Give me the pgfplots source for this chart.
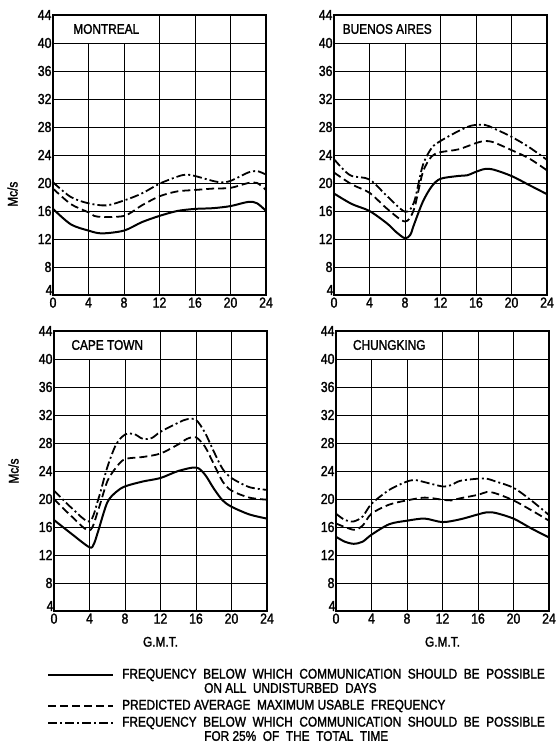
\documentclass[border=0pt]{standalone}
\usepackage{pgfplots}
\pgfplotsset{compat=1.18}
\usepackage{fontspec}
\setmainfont{Liberation Sans}[FakeStretch=0.85, FakeBold=1.6]

\tikzset{
  lo/.style={black, line width=2pt, smooth},
  avg/.style={black, line width=1.8pt, smooth, dash pattern=on 8bp off 4bp},
  hi/.style={black, line width=1.8pt, smooth, dash pattern=on 9bp off 3bp on 2bp off 3bp},
}
\pgfplotsset{
  panel/.style={
    scale only axis, width=213bp, height=280bp,
    xmin=0, xmax=24, ymin=4, ymax=44,
    xtick={0,4,...,24}, ytick={8,12,...,44},
    extra y ticks={4},
    extra y tick style={grid=none, yticklabel style={yshift=5bp, xshift=1bp}},
    grid=major, grid style={black, line width=0.7pt},
    axis line style={line width=1.1pt},
    major tick length=0pt,
    tick label style={font=\fontsize{14.5}{14.5}\selectfont},
    /pgf/number format/assume math mode=true,
    xticklabel style={yshift=1bp},
    yticklabel style={xshift=2bp},
    label style={font=\fontsize{14}{14}\selectfont},
  },
  mcs/.style={ylabel={Mc/s}, ylabel style={at={(axis description cs:-0.19,#1)}, anchor=center}},
  gmt/.style={xlabel={G.M.T.}, xlabel style={at={(axis description cs:0.5,-0.11)}, anchor=center}},
}
\newcommand{\titlebox}[1]{%
  \draw[fill=white, line width=0.9pt] (axis cs:0,40) rectangle (axis cs:12,44);
  \node[font=\fontsize{14}{14}\selectfont] at (axis cs:6,42) {#1};}

\begin{document}
\begin{tikzpicture}
\useasboundingbox (0,0) rectangle (558bp,746bp);

% Montreal
\begin{axis}[panel, mcs=0.36, at={(53bp,451bp)}, anchor=south west]
\addplot[lo] coordinates {(0,16.3)(2,14.1)(4,13.2)(5.5,12.8)(8,13.2)(10,14.4)(12,15.3)(14,16.0)(16,16.3)(18,16.4)(20,16.7)(22,17.3)(23,17.1)(24,16.0)};
\addplot[avg] coordinates {(0,19.2)(2,17.0)(4,15.8)(5,15.2)(8,15.3)(10,16.8)(12,18.1)(14,18.8)(16,19.0)(18,19.2)(20,19.3)(22,20.0)(23,20.0)(24,19.0)};
\addplot[hi] coordinates {(0,20.1)(2,18.0)(4,17.1)(6,16.8)(8,17.5)(10,18.5)(12,19.9)(14,20.9)(15,21.2)(16,21.0)(18,20.3)(19,20.1)(20,20.3)(22,21.5)(23,21.7)(24,21.2)};
\titlebox{MONTREAL}
\end{axis}

% Buenos Aires
\begin{axis}[panel, at={(334bp,451bp)}, anchor=south west]
\addplot[lo] coordinates {(0,18.5)(2,17.0)(4,16.0)(6,14.2)(7,13.0)(8,12.1)(8.6,12.6)(9,14.0)(10,17.3)(11,19.5)(12,20.6)(14,21.0)(15,21.1)(16,21.6)(17,22.0)(18,21.9)(20,21.0)(22,19.7)(24,18.4)};
\addplot[avg] coordinates {(0,21.5)(2,19.8)(4,18.6)(6,16.3)(8,14.5)(9,16.2)(10,21.5)(11,23.8)(12,24.4)(14,24.8)(16,25.7)(17,26.0)(18,25.8)(20,24.7)(22,23.5)(24,21.8)};
\addplot[hi] coordinates {(0,23.4)(1,22.0)(2,21.0)(4,20.5)(6,18.1)(8,15.9)(9,17.2)(10,22.5)(11,25.0)(12,26.0)(14,27.4)(15.5,28.2)(17,28.3)(18,27.8)(20,26.6)(22,25.1)(24,23.3)};
\titlebox{BUENOS AIRES}
\end{axis}

% Cape Town
\begin{axis}[panel, mcs=0.5, gmt, at={(54bp,135bp)}, anchor=south west]
\addplot[lo] coordinates {(0,17.0)(2,15.0)(4,13.1)(4.5,13.6)(5,15.5)(6,19.5)(7,21.0)(8,21.8)(10,22.5)(12,23.0)(14,24.0)(16,24.5)(17,23.5)(18,21.5)(19,19.8)(20,18.9)(22,17.8)(24,17.2)};
\addplot[avg] coordinates {(0,20.0)(2,17.5)(4,15.5)(5,18.5)(6,22.5)(7,24.5)(8,25.7)(10,26.0)(12,26.5)(14,27.8)(15,28.6)(16,28.8)(17,27.5)(18,25.0)(19,22.5)(20,21.2)(22,20.2)(24,19.9)};
\addplot[hi] coordinates {(0,21.2)(2,18.7)(4,16.8)(5,20.0)(6,24.5)(7,27.8)(8,29.2)(9,29.3)(10,28.6)(11,28.7)(12,29.6)(14,30.9)(15,31.4)(16,31.3)(17,29.5)(18,26.8)(19,24.3)(20,23.0)(22,21.7)(24,21.3)};
\titlebox{CAPE TOWN}
\end{axis}

% Chungking
\begin{axis}[panel, gmt, at={(336bp,135bp)}, anchor=south west]
\addplot[lo] coordinates {(0,14.6)(1,13.9)(2,13.6)(3,13.9)(4,14.9)(6,16.4)(8,16.9)(10,17.2)(12,16.7)(14,17.1)(16,17.8)(17,18.1)(18,18.0)(20,17.2)(22,15.8)(24,14.5)};
\addplot[avg] coordinates {(0,16.5)(2,15.6)(3,16.2)(4,17.9)(6,19.2)(8,19.8)(10,20.2)(12,19.9)(13,19.8)(14,20.1)(16,20.6)(17,21.0)(18,20.8)(20,19.8)(22,18.4)(24,16.9)};
\addplot[hi] coordinates {(0,17.9)(1,17.0)(2,16.8)(3,17.5)(4,19.3)(6,21.3)(8,22.5)(9,22.7)(10,22.4)(12,21.8)(13,22.0)(14,22.6)(16,22.9)(17,22.9)(18,22.5)(20,21.6)(22,19.8)(24,17.7)};
\titlebox{CHUNGKING}
\end{axis}

% key
\begin{scope}[font=\fontsize{14}{14}\selectfont]
\draw[lo] (48bp,71bp) -- (113bp,71bp);
\node[anchor=west, inner sep=0pt] at (122bp,71bp) {FREQUENCY\ \ BELOW\ \ WHICH\ \ COMMUNICATION\ \ SHOULD\ \ BE\ \ POSSIBLE};
\node[anchor=west, inner sep=0pt] at (204bp,58bp) {ON\ ALL\ \ UNDISTURBED\ \ DAYS};
\draw[avg] (48bp,40bp) -- (113bp,40bp);
\node[anchor=west, inner sep=0pt] at (122bp,40bp) {PREDICTED\ AVERAGE\ \ MAXIMUM\ USABLE\ \ FREQUENCY};
\draw[hi] (48bp,23bp) -- (113bp,23bp);
\node[anchor=west, inner sep=0pt] at (122bp,23bp) {FREQUENCY\ \ BELOW\ \ WHICH\ \ COMMUNICATION\ \ SHOULD\ \ BE\ \ POSSIBLE};
\node[anchor=west, inner sep=0pt] at (204bp,10bp) {FOR\ 25\%\ \ OF\ \ THE\ \ TOTAL\ \ TIME};
\end{scope}
\end{tikzpicture}
\end{document}
